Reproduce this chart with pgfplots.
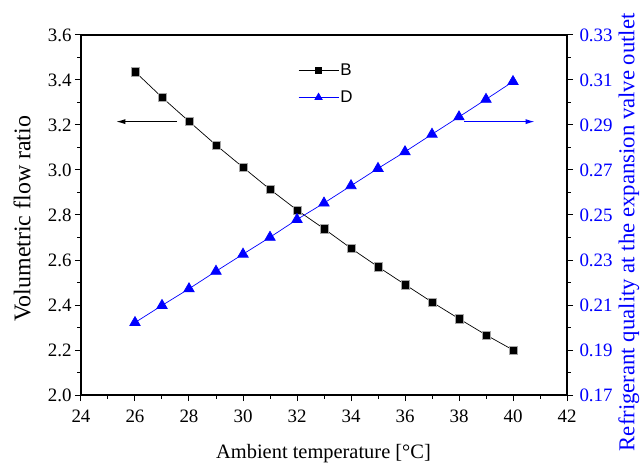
\documentclass[border=0pt]{standalone}
\usepackage{pgfplots}
\pgfplotsset{compat=1.18}
\usepackage{fontspec}
\setmainfont{Liberation Serif}
\setsansfont{Liberation Sans}
\usetikzlibrary{arrows.meta}
\definecolor{myblue}{RGB}{0,0,255}
\begin{document}
\begin{tikzpicture}
\useasboundingbox (-81bp,-69bp) rectangle (559bp,395bp);
\begin{axis}[
  at={(0,0)}, anchor=south west,
  scale only axis, width=486bp, height=360bp,
  xmin=24, xmax=42, ymin=2.0, ymax=3.6,
  xtick={24,26,28,30,32,34,36,38,40,42}, minor x tick num=1,
  xticklabels={24,26,28,30,32,34,36,38,40,42},
  ytick={2.0,2.2,2.4,2.6,2.8,3.0,3.2,3.4,3.6}, minor y tick num=1,
  yticklabels={2.0,2.2,2.4,2.6,2.8,3.0,3.2,3.4,3.6},
  xtick pos=bottom, ytick pos=left,
  tick align=outside,
  major tick length=6bp, minor tick length=3.5bp,
  axis line style={line width=1.1bp},
  every tick/.style={black, line width=1bp},
  ticklabel style={font=\rmfamily\fontsize{19}{19}\selectfont},
  xticklabel style={yshift=-5bp},
  xlabel={Ambient temperature [\textdegree C]},
  ylabel={Volumetric flow ratio},
  xlabel style={font=\rmfamily\fontsize{20.5}{20.5}\selectfont, at={(axis description cs:0.499,0)}, anchor=base, yshift=-63bp},
  ylabel style={font=\rmfamily\fontsize{24}{24}\selectfont, at={(axis description cs:-0.121,0.49)}, anchor=center, rotate=0},
  clip=false,
]
\addplot[black, line width=0.7bp, mark=square*, mark size=4.2bp, mark options={fill=black, draw=black!35, line width=0.4bp}] coordinates {
(26,3.437) (27,3.323) (28,3.216) (29,3.111) (30,3.012) (31,2.914) (32,2.822) (33,2.739) (34,2.652) (35,2.570) (36,2.491) (37,2.413) (38,2.339) (39,2.267) (40,2.200)
};
\draw[black, line width=0.9bp, -{Latex[length=9bp,width=5bp]}] (axis cs:27.56,3.215) -- (axis cs:25.31,3.215);
\end{axis}
\begin{axis}[
  at={(0,0)}, anchor=south west,
  scale only axis, width=486bp, height=360bp,
  xmin=24, xmax=42, ymin=0.17, ymax=0.33,
  axis x line=none, axis y line*=right,
  ytick={0.17,0.19,0.21,0.23,0.25,0.27,0.29,0.31,0.33}, minor y tick num=1,
  yticklabels={0.17,0.19,0.21,0.23,0.25,0.27,0.29,0.31,0.33},
  tick align=outside,
  major tick length=6bp, minor tick length=3.5bp,
  axis line style={line width=1.1bp, -},
  every tick/.style={black, line width=1bp},
  yticklabel style={font=\rmfamily\fontsize{19}{19}\selectfont, text=myblue, xshift=3bp},
  ylabel={Refrigerant quality at the expansion valve outlet},
  ylabel style={font=\rmfamily\fontsize{22.8}{22.8}\selectfont, text=myblue, at={(axis description cs:1.127,0.452)}, anchor=center, rotate=0},
  clip=false,
  legend style={at={(axis description cs:0.4465,0.925)}, anchor=north west, draw=none, fill=none, font=\sffamily\fontsize{17}{17}\selectfont, row sep=11bp, inner sep=0pt, nodes={inner sep=1.5bp}, cells={anchor=west}},
  legend image code/.code={
    \draw[#1, mark=none] (0bp,0bp) -- (40bp,0bp);
    \draw[#1, only marks, mark options={scale=0.7}] plot coordinates {(20bp,0bp)};
  },
]
\addlegendimage{black, line width=0.7bp, mark=square*, mark size=4.2bp, mark options={fill=black, draw=black}}
\addlegendentry{B}
\addplot[myblue, line width=0.7bp, mark=triangle*, mark size=6bp, mark options={fill=myblue, draw=myblue}] coordinates {
(26,0.2022) (27,0.2098) (28,0.2172) (29,0.2250) (30,0.2326) (31,0.2401) (32,0.2480) (33,0.2553) (34,0.2630) (35,0.2707) (36,0.2781) (37,0.2859) (38,0.2936) (39,0.3014) (40,0.3093)
};
\addlegendentry{D}
\draw[myblue, line width=0.9bp, -{Latex[length=9bp,width=5bp]}] (axis cs:38.2,0.2915) -- (axis cs:40.8,0.2915);
\end{axis}
\end{tikzpicture}
\end{document}
